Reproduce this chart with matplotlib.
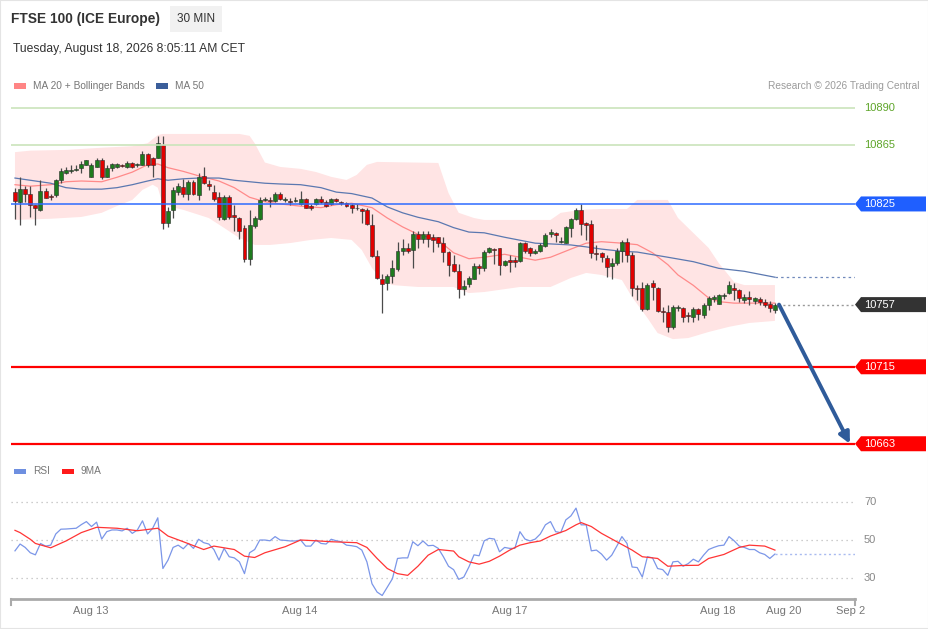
import numpy as np
import matplotlib
matplotlib.use('Agg')
import matplotlib.pyplot as plt
from matplotlib.patches import Polygon, Rectangle
from matplotlib.transforms import blended_transform_factory

plt.rcParams['font.family'] = ['Liberation Sans', 'DejaVu Sans']

W, H = 929, 629

# --- 30 min candles ---
opens = [10833, 10826, 10835, 10832, 10824, 10821, 10834, 10830.5, 10831, 10841,
         10846, 10847, 10848, 10849, 10851, 10843, 10850, 10855, 10843, 10849,
         10850, 10851, 10850, 10853, 10851, 10851, 10859, 10856, 10856, 10865,
         10812, 10821, 10833, 10836.5, 10832, 10840, 10831, 10844, 10838.5, 10833,
         10830, 10815, 10830, 10817.6, 10815.5, 10809, 10788, 10810, 10815, 10828,
         10827.5, 10827, 10832, 10828, 10827, 10827, 10825, 10828.4, 10823.6, 10825,
         10828.4, 10826.4, 10825, 10828.4, 10826, 10825.7, 10824.3, 10822.5, 10821.6, 10821,
         10811, 10790, 10774, 10771.6, 10776, 10781, 10793, 10795, 10794, 10805,
         10801, 10805, 10803, 10802.7, 10798.6, 10792.6, 10784.4, 10780, 10767.5, 10771,
         10774, 10783, 10782, 10792.6, 10794.6, 10795.3, 10784, 10787, 10787, 10786.5,
         10798.6, 10795.3, 10792, 10793.2, 10796.6, 10804.7, 10805.4, 10799.3, 10798.6, 10808.8,
         10815, 10821, 10812.2, 10811.5, 10791.9, 10792, 10788.5, 10783, 10785, 10793.2,
         10799.3, 10790.5, 10768, 10768.2, 10754, 10771.6, 10768, 10752.7, 10752, 10742,
         10754.7, 10754.7, 10750, 10748.6, 10754, 10750, 10756.7, 10760.8, 10757.4, 10762.8,
         10765, 10768.2, 10767, 10760, 10762, 10759.4, 10760.8, 10758.8, 10757.4, 10753.4]
highs = [10836, 10843, 10837, 10837, 10824.5, 10841, 10836, 10832, 10842, 10849,
         10850, 10851, 10851, 10854, 10855, 10853, 10856, 10856, 10851, 10853,
         10853, 10852, 10854, 10853.5, 10852.5, 10861, 10859.5, 10857, 10871, 10871,
         10823, 10836.5, 10839, 10842, 10841, 10841, 10846, 10850, 10841, 10838,
         10833, 10831, 10831, 10824, 10816, 10811, 10821, 10817, 10830, 10830,
         10830, 10833, 10833, 10830, 10829, 10830, 10834, 10829, 10825, 10829,
         10830.4, 10827.7, 10829, 10829, 10827, 10826.4, 10825, 10825, 10822, 10822,
         10818, 10794, 10778, 10778, 10787, 10799, 10801, 10798.6, 10807, 10807,
         10807, 10807, 10805, 10803, 10803, 10793, 10790.5, 10784.4, 10773.6, 10776,
         10785, 10784.4, 10794, 10796, 10795, 10795.5, 10787, 10790.5, 10789, 10799.3,
         10799, 10796, 10794.6, 10798.6, 10805.4, 10808, 10806, 10802.7, 10810, 10815.5,
         10822, 10825, 10813, 10814.2, 10797, 10792.6, 10790.5, 10788.5, 10795.3, 10800.7,
         10802, 10792.6, 10770, 10772, 10771.6, 10773.6, 10769, 10755.4, 10756.7, 10756.7,
         10756.7, 10755.4, 10752, 10755.4, 10754.7, 10758, 10762.8, 10763.5, 10764.2, 10765,
         10773, 10771.6, 10767.5, 10764, 10766, 10762, 10762, 10760.8, 10759.4, 10758]
lows = [10815, 10811, 10826, 10816, 10811, 10820, 10829, 10828, 10830, 10839,
        10845, 10846, 10847, 10846, 10851, 10843, 10850, 10842, 10843, 10847,
        10849, 10850, 10849, 10849, 10850, 10851, 10850, 10843, 10856, 10808,
        10809.5, 10815.5, 10831, 10830, 10828, 10831, 10828, 10838.5, 10834.5, 10827,
        10814, 10814, 10815, 10807, 10801, 10786, 10784, 10809, 10814, 10827,
        10823, 10826, 10828, 10826, 10824, 10826, 10824, 10822, 10821, 10824,
        10825.7, 10823, 10824, 10826.4, 10824, 10823, 10819, 10821, 10812, 10811,
        10789, 10774, 10751, 10767, 10771.6, 10780, 10790.5, 10792, 10782, 10795,
        10798.6, 10796, 10792.6, 10796, 10786, 10776, 10779, 10761.5, 10763.5, 10769,
        10774, 10778, 10780, 10792, 10784.4, 10777, 10783, 10779, 10782.4, 10785.8,
        10792, 10790, 10791, 10792.6, 10796, 10803, 10799, 10798.6, 10798.6, 10802.7,
        10814, 10804, 10800.7, 10788.5, 10787, 10786, 10775.7, 10774, 10784, 10786,
        10786, 10763, 10760, 10752.7, 10753.3, 10760, 10752, 10745, 10738.5, 10740.5,
        10752.7, 10745.2, 10745.2, 10745.2, 10746.6, 10748, 10753.4, 10758.8, 10757.4, 10761,
        10764, 10760, 10758.8, 10758, 10756.7, 10757.4, 10756.7, 10755.4, 10752, 10751.3]
closes = [10827, 10835, 10832, 10824, 10822, 10834, 10829, 10830, 10841, 10847,
          10848, 10848, 10848.3, 10852, 10855, 10851, 10855, 10843, 10849, 10852,
          10852, 10850.5, 10853, 10850, 10852, 10859, 10851, 10851, 10866, 10812,
          10820, 10834.5, 10837, 10832, 10840, 10832, 10843, 10839, 10837, 10828.4,
          10816, 10830, 10816, 10816, 10807, 10788, 10811, 10815.5, 10828, 10828.5,
          10827, 10832, 10828.4, 10828.3, 10826.5, 10827.5, 10828.4, 10822.3, 10822.3, 10828.4,
          10826.4, 10823.6, 10828.4, 10827, 10825.5, 10823.6, 10822.3, 10822, 10820.3, 10811.5,
          10790, 10775, 10771, 10776, 10782, 10793, 10795, 10793, 10805, 10801,
          10805, 10801, 10800.7, 10798.6, 10792.6, 10784, 10780, 10767.5, 10769.6, 10775,
          10783, 10781.7, 10792.6, 10795.3, 10794, 10784, 10786.5, 10786, 10786, 10798.6,
          10793.2, 10792, 10793.2, 10797.3, 10804, 10806, 10804, 10799.5, 10809.5, 10815,
          10821, 10811.5, 10810.8, 10792, 10791.2, 10789, 10782.4, 10785, 10793.2, 10799.3,
          10790.5, 10768, 10767.5, 10754, 10770.2, 10769, 10752.7, 10752, 10742, 10755.4,
          10755, 10748.6, 10749.5, 10754, 10750.6, 10756.7, 10761.5, 10762, 10763.5, 10763,
          10770.2, 10767, 10761.5, 10762, 10760.8, 10761.5, 10758.8, 10756.7, 10754.7, 10757]

# moving averages / bollinger bands (sampled at bar index)
ma20_idx = [0, 3, 7, 10, 13, 17, 20, 23, 26, 28, 30, 33, 36, 40, 43, 46, 49, 52, 56, 60,
            63, 66, 70, 73, 76, 79, 83, 86, 89, 92, 96, 99, 102, 105, 109, 112, 115, 119,
            122, 125, 128, 130, 133, 136, 138, 141, 144, 146, 149]
ma20 = [10838, 10837, 10838, 10840, 10840.5, 10840, 10843, 10846.5, 10851.5, 10852,
        10849.5, 10847, 10844, 10840.5, 10836, 10829.5, 10826.5, 10825, 10823.5, 10822.5,
        10824.5, 10825.5, 10822.5, 10815.5, 10809.5, 10804.5, 10800.5, 10792, 10788, 10789,
        10791, 10789, 10787, 10789, 10794.5, 10798.5, 10799.5, 10798.5, 10797.5, 10792,
        10784, 10777, 10770, 10761.5, 10759, 10758, 10758, 10758, 10758]
ma50_idx = [0, 3, 7, 10, 13, 17, 20, 23, 26, 28, 30, 33, 36, 40, 43, 46, 49, 52, 56, 60,
            63, 66, 70, 73, 76, 79, 83, 86, 89, 92, 96, 99, 102, 105, 109, 112, 115, 119,
            122, 128, 133, 138, 143, 149]
ma50 = [10842.5, 10841, 10839, 10836, 10835, 10835, 10836, 10838, 10840.5, 10842,
        10841, 10842, 10842.5, 10842.5, 10841, 10840, 10839, 10838.5, 10838, 10836,
        10833, 10832, 10829, 10823, 10819, 10816, 10813, 10809, 10806, 10805.5,
        10802.5, 10800.5, 10798.5, 10798, 10797.3, 10796, 10794.5, 10793, 10792.5, 10789,
        10786, 10781.5, 10779.5, 10775.5]
bb_up_idx = [0, 3, 10, 17, 23, 26, 28, 29, 36, 44, 46, 47, 49, 52, 56, 59, 62, 65, 67, 69,
             71, 83, 85, 87, 90, 92, 105, 107, 111, 115, 120, 122, 128, 130, 133, 136, 138,
             141, 143, 149]
bb_up = [10860, 10861, 10861.5, 10863, 10864, 10866, 10871.5, 10872.3, 10872.3, 10872.3,
         10871, 10866, 10853, 10850, 10848.7, 10846.6, 10843.3, 10841.2, 10844.6, 10851.4,
         10853.4, 10852.7, 10832.4, 10819, 10815.5, 10814.2, 10814.2, 10819, 10821, 10821.6,
         10821.6, 10827.7, 10827.7, 10815.5, 10805.4, 10795.3, 10785, 10772.3, 10770.2, 10770.2]
bb_low_idx = [0, 7, 13, 17, 20, 23, 25, 27, 28, 29, 33, 38, 41, 44, 47, 50, 54, 58, 62, 66,
              68, 70, 72, 74, 79, 86, 89, 92, 99, 105, 109, 112, 115, 119, 121, 124, 126,
              129, 132, 136, 140, 144, 149]
bb_low = [10814.2, 10815, 10816.2, 10819, 10823.6, 10827.7, 10834.5, 10838, 10836, 10824.3,
          10821, 10815.5, 10808.8, 10802, 10797.3, 10797.3, 10798.6, 10800.7, 10802, 10800.7,
          10793.9, 10781.7, 10773.6, 10770.2, 10768.9, 10768.9, 10764.8, 10765.5, 10768.9, 10768.9,
          10775, 10778.4, 10777, 10773.6, 10762, 10748, 10737.8, 10733.7, 10734.4, 10738.5,
          10742, 10744.6, 10746]

# RSI and its 9 period MA
rsi = [44.3, 47.9, 46.1, 43.3, 42.2, 48.2, 46.8, 47.3, 53.2, 55.7,
       55.8, 56, 56.2, 58.1, 59.7, 57.1, 59.4, 50.5, 54.4, 55.3,
       55.3, 54.8, 56.2, 53.5, 55.3, 60.1, 53.2, 56.2, 61.7, 35,
       39.4, 46.1, 47.3, 45.4, 48.2, 45.6, 50.4, 48.6, 47.9, 45,
       39.4, 45.6, 41.2, 40.6, 38.5, 32.3, 43.3, 45, 50, 50,
       49.6, 51.8, 50, 49.8, 49.5, 49.5, 50, 46.8, 46.8, 50,
       48.2, 47.9, 50.4, 49.6, 49.1, 47.3, 47, 46.5, 44.7, 38.5,
       27, 22.6, 20.8, 25.2, 29.6, 40.3, 40.6, 40.6, 49.1, 47,
       49.5, 47, 47.2, 45.6, 41.2, 36.2, 34.4, 29.3, 30.5, 35.8,
       42.2, 41.7, 49.6, 50.9, 50.5, 43.8, 46.1, 45.6, 45.6, 54.4,
       50.5, 49.5, 50.5, 53.2, 58, 59.7, 54.4, 53.9, 60.6, 62.7,
       66.8, 58, 58, 44.3, 44.7, 42.6, 39.4, 42, 46.8, 51.8,
       48.2, 35.8, 35.5, 30.5, 41.2, 40.6, 35, 34.4, 31.4, 38.5,
       38.8, 36.2, 37.6, 39.9, 38.5, 42, 45, 46.1, 47, 47.3,
       51.8, 49.6, 46.8, 46.1, 45, 45, 43.3, 42.4, 40.3, 42.6]
rsi_ma_idx = [0, 1, 3, 4, 7, 10, 13, 16, 20, 24, 28, 30, 33, 37, 39, 43, 45, 47, 49, 53,
              56, 59, 62, 67, 69, 71, 73, 75, 77, 79, 81, 83, 86, 87, 89, 91, 93, 95, 97,
              99, 101, 103, 105, 108, 110, 111, 113, 115, 118, 121, 123, 126, 128, 131, 134,
              136, 139, 142, 144, 147, 149]
rsi_ma = [55.1, 53.9, 50.4, 48.2, 45.9, 49.5, 53.9, 56.7, 56.2, 54.9,
          56.2, 52.1, 49.1, 45, 46.8, 45, 41.5, 40.8, 43.3, 46.5,
          50, 49.6, 49.1, 48.6, 46.1, 40.3, 35, 32.3, 31.4, 36.2,
          42, 45, 44.2, 41.2, 38.5, 37.3, 38.8, 41.5, 44.7, 47.3,
          48.6, 49.5, 52.1, 55, 58, 59.2, 57.1, 53.5, 49.1, 44.7,
          41.2, 40.3, 36.2, 36.6, 36.7, 40.3, 42.4, 46.1, 47.3, 46.8, 44.7]

tick_pos = [14.9, 55.9, 96.9, 137.8, 150.8, 163.9]
tick_labels = ['Aug 13', 'Aug 14', 'Aug 17', 'Aug 18', 'Aug 20', 'Sep 2']

res_levels = [10890, 10865]
pivot = 10825
sup_levels = [10715, 10663]
rsi_grid = [70, 50, 30]

XLIM = (-0.78, 164.7)


def px(x, y, w, h):
    return [x / W, 1 - (y + h) / H, w / W, h / H]


fig = plt.figure(figsize=(W / 100, H / 100), dpi=100)
fig.patch.set_facecolor('white')
fig.patches.append(Rectangle((0, 0), 1, 1, transform=fig.transFigure, fill=False,
                             ec='#e4e4e4', lw=1.5))

# header
fig.text(11 / W, 1 - 19 / H, 'FTSE 100 (ICE Europe)', fontsize=9.9, fontweight='bold',
         color='#333333', va='center')
fig.text(196 / W, 1 - 19 / H, '30 MIN', fontsize=8.5, color='#333333', ha='center', va='center',
         bbox=dict(boxstyle='square,pad=0.6', fc='#f1f1f1', ec='none'))
fig.text(13 / W, 1 - 49 / H, 'Tuesday, August 18, 2026 8:05:11 AM CET', fontsize=8.7,
         color='#333333', va='center')

# legend row
def legend_item(x, y, color, label):
    fig.patches.append(Rectangle((x / W, 1 - (y + 2.5) / H), 12 / W, 5 / H,
                                 transform=fig.transFigure, fc=color, ec='none'))
    fig.text((x + 19) / W, 1 - y / H, label, fontsize=7.3, color='#777777', va='center')

legend_item(14, 86, '#ff8585', 'MA 20 + Bollinger Bands')
legend_item(156, 86, '#3b5e9a', 'MA 50')
fig.text(920 / W, 1 - 86 / H, 'Research \u00a9 2026 Trading Central', fontsize=7.3,
         color='#9b9b9b', ha='right', va='center')

# price panel
ax = fig.add_axes(px(11, 95, 844, 360))
ax.set_xlim(*XLIM)
ax.set_ylim(10655.4, 10898.6)
ax.axis('off')

x = np.arange(len(closes))
o, hi, lo, c = map(np.array, (opens, highs, lows, closes))

ax.fill(np.r_[bb_up_idx, bb_low_idx[::-1]], np.r_[bb_up, bb_low[::-1]],
        color='#ffe4e4', lw=0, zorder=1)
ax.plot(ma20_idx, ma20, color='#ff8a8a', lw=0.9, zorder=2)
ax.plot(ma50_idx, ma50, color='#5b78b0', lw=0.9, zorder=2)
ax.plot([ma50_idx[-1], XLIM[1]], [ma50[-1]] * 2, color='#7089bb', lw=0.9,
        ls=(0, (2, 2.5)), zorder=2)
ax.plot([x[-1] + 0.6, XLIM[1]], [closes[-1]] * 2, color='#999999', lw=1,
        ls=(0, (1.5, 2)), zorder=2)

up = c >= o
ax.vlines(x, lo, hi, color='#4a4a4a', lw=0.9, zorder=3)
ax.bar(x, np.maximum(np.abs(c - o), 0.45), bottom=np.minimum(o, c), width=0.78,
       color=np.where(up, '#1e7b1e', '#e10000'), edgecolor='#2b2b2b', lw=0.4, zorder=4)

for lv in res_levels:
    ax.axhline(lv, color='#cbe4bb', lw=1.2, zorder=5)
ax.axhline(pivot, color='#2d6bff', lw=1.1, zorder=5)
for lv in sup_levels:
    ax.axhline(lv, color='#ff0000', lw=1.6, zorder=5)

tr = blended_transform_factory(ax.transAxes, ax.transData)
hh = (ax.get_ylim()[1] - ax.get_ylim()[0]) * 7.5 / 360


def tag(val, fc):
    pts = [(1, val), (1 + 6 / 844, val + hh), (1 + 71 / 844, val + hh),
           (1 + 71 / 844, val - hh), (1 + 6 / 844, val - hh)]
    ax.add_patch(Polygon(pts, closed=True, transform=tr, fc=fc, ec='none',
                         clip_on=False, zorder=6))
    ax.text(1 + 9 / 844, val, str(val), transform=tr, color='white', fontsize=8,
            va='center', ha='left', zorder=7)


for lv in res_levels:
    ax.text(1 + 9 / 844, lv, str(lv), transform=tr, color='#5ea52a', fontsize=8,
            va='center', ha='left')
tag(pivot, '#1f5fff')
tag(round(closes[-1]), '#333333')
for lv in sup_levels:
    tag(lv, '#ff0000')

# projected move arrow
ax.annotate('', xy=(tick_pos[-1] - 0.2, sup_levels[-1]), xytext=(x[-1] + 0.8, closes[-1]),
            arrowprops=dict(arrowstyle='-|>', color='#2f5b9a', lw=2.8, mutation_scale=16,
                            shrinkA=0, shrinkB=0), zorder=8, annotation_clip=False)

# RSI panel
legend_item(14, 471, '#6e8fe0', 'RSI')
legend_item(62, 471, '#ff1a1a', '9MA')

ax2 = fig.add_axes(px(11, 480, 844, 119))
ax2.set_xlim(*XLIM)
ax2.set_ylim(18.95, 81.6)
for s in ['top', 'left', 'right']:
    ax2.spines[s].set_visible(False)
ax2.spines['bottom'].set_color('#aaaaaa')
ax2.spines['bottom'].set_linewidth(2)
ax2.set_yticks([])
ax2.set_xticks(tick_pos)
ax2.set_xticklabels(tick_labels)
ax2.tick_params(axis='x', length=0, pad=5, labelsize=8, labelcolor='#777777')
ax2.set_facecolor('none')

tr2 = blended_transform_factory(ax2.transAxes, ax2.transData)
for g in rsi_grid:
    ax2.axhline(g, color='#bdbdbd', lw=0.9, ls=(0, (1, 3)), zorder=1)
    ax2.text(1 + 9 / 844, g, str(g), transform=tr2, color='#888888', fontsize=8, va='center')

ax2.plot(x, rsi, color='#7b96e8', lw=0.9, zorder=2)
ax2.plot(rsi_ma_idx, rsi_ma, color='#ff3535', lw=0.9, zorder=3)
ax2.plot([x[-1], XLIM[1]], [rsi[-1]] * 2, color='#a9bbf0', lw=1, ls=(0, (1.5, 2)), zorder=2)
for xa in (0, 1):
    ax2.plot([xa, xa], [0, -0.05], transform=ax2.transAxes, color='#aaaaaa', lw=1.5,
             clip_on=False)

fig.savefig('out.png', dpi=100)
